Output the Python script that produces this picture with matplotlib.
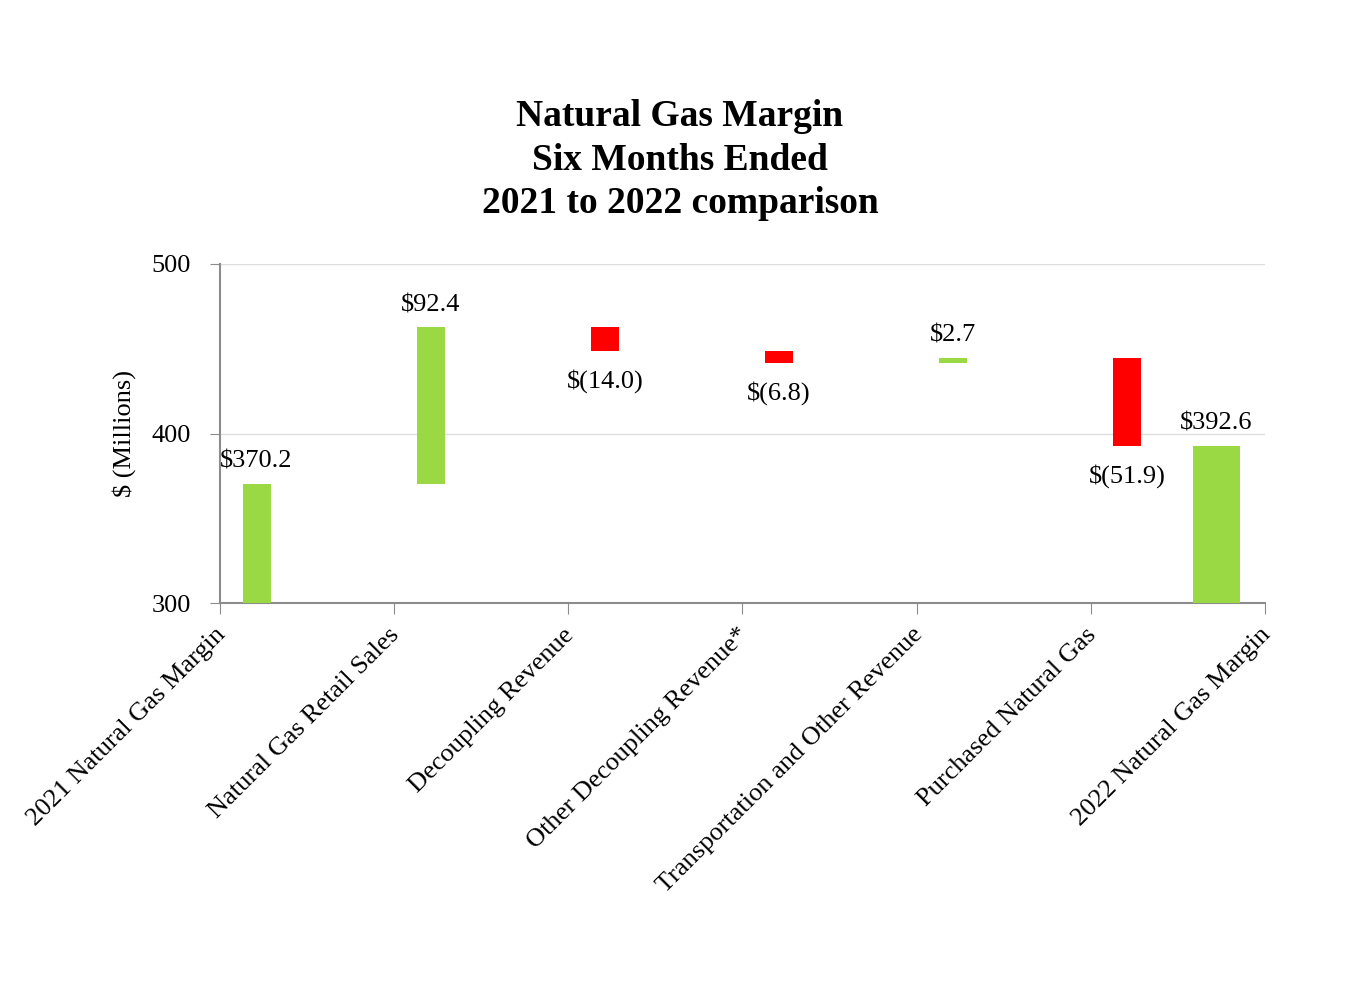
import matplotlib.pyplot as plt
import numpy as np

categories = ["2021 Natural Gas Margin", "Natural Gas Retail Sales", "Decoupling Revenue",
              "Other Decoupling Revenue*", "Transportation and Other Revenue",
              "Purchased Natural Gas", "2022 Natural Gas Margin"]
start_total = 370.2
changes = [92.4, -14.0, -6.8, 2.7, -51.9]
end_total = 392.6
labels = ["$370.2", "$92.4", "$(14.0)", "$(6.8)", "$2.7", "$(51.9)", "$392.6"]

GREEN = "#9bd944"
RED = "#ff0000"
AXIS = "#8c8c8c"

plt.rcParams["font.family"] = ["Liberation Serif", "DejaVu Serif"]


def waterfall_segments():
    """Returns (bottom, height, color) for each bar of the waterfall."""
    segs = [(0, start_total, GREEN)]
    level = start_total
    for c in changes:
        lo = level if c >= 0 else level + c
        segs.append((lo, abs(c), GREEN if c >= 0 else RED))
        level += c
    segs.append((0, end_total, GREEN))
    return segs


fig = plt.figure(figsize=(13.64, 10), dpi=100)
ax = fig.add_axes([0.1613, 0.397, 0.7661, 0.339])

segs = waterfall_segments()
n = len(segs)
for i, (bottom, height, color) in enumerate(segs):
    if i < n - 1:
        xc, w = i + 0.21, 0.16
    else:
        xc, w = i - 1 + 0.72, 0.27
    ymin = max(bottom, 300)
    ax.bar(xc, bottom + height - ymin, bottom=ymin, width=w, color=color, zorder=3)
    up = color == GREEN
    y = bottom + height if up else bottom
    ax.annotate(labels[i], (xc, y), xytext=(0, 8 if up else -13), textcoords="offset points",
                ha="center", va="bottom" if up else "top", fontsize=19)

ax.set_xticks(np.arange(n))
ax.set_xticklabels([])
ax.set_xlim(0, n - 1)
ax.set_ylim(300, 500)
ax.set_yticks([300, 400, 500])

# slanted category labels, hung off each boundary tick and nudged a bit left
for i, cat in enumerate(categories):
    ax.annotate(cat, (i, 0), xycoords=ax.get_xaxis_transform(), xytext=(-4, -15),
                textcoords="offset points", rotation=45, ha="right", va="top",
                rotation_mode="anchor", fontsize=19, annotation_clip=False)

ax.tick_params(axis="y", labelsize=19, length=7, color=AXIS, direction="out", pad=14)
ax.tick_params(axis="x", length=8, color=AXIS, direction="out")
ax.grid(axis="y", color="#dedede", linewidth=1, zorder=0)
for side in ["top", "right"]:
    ax.spines[side].set_visible(False)
for side in ["left", "bottom"]:
    ax.spines[side].set_color(AXIS)
    ax.spines[side].set_linewidth(1.5)

ax.set_ylabel("$ (Millions)", fontsize=19, labelpad=11)

fig.text(0.4985, 0.84, "Natural Gas Margin\nSix Months Ended\n2021 to 2022 comparison",
         ha="center", va="center", fontsize=27, fontweight="bold", linespacing=1.3)

fig.savefig("out.png", dpi=100)
